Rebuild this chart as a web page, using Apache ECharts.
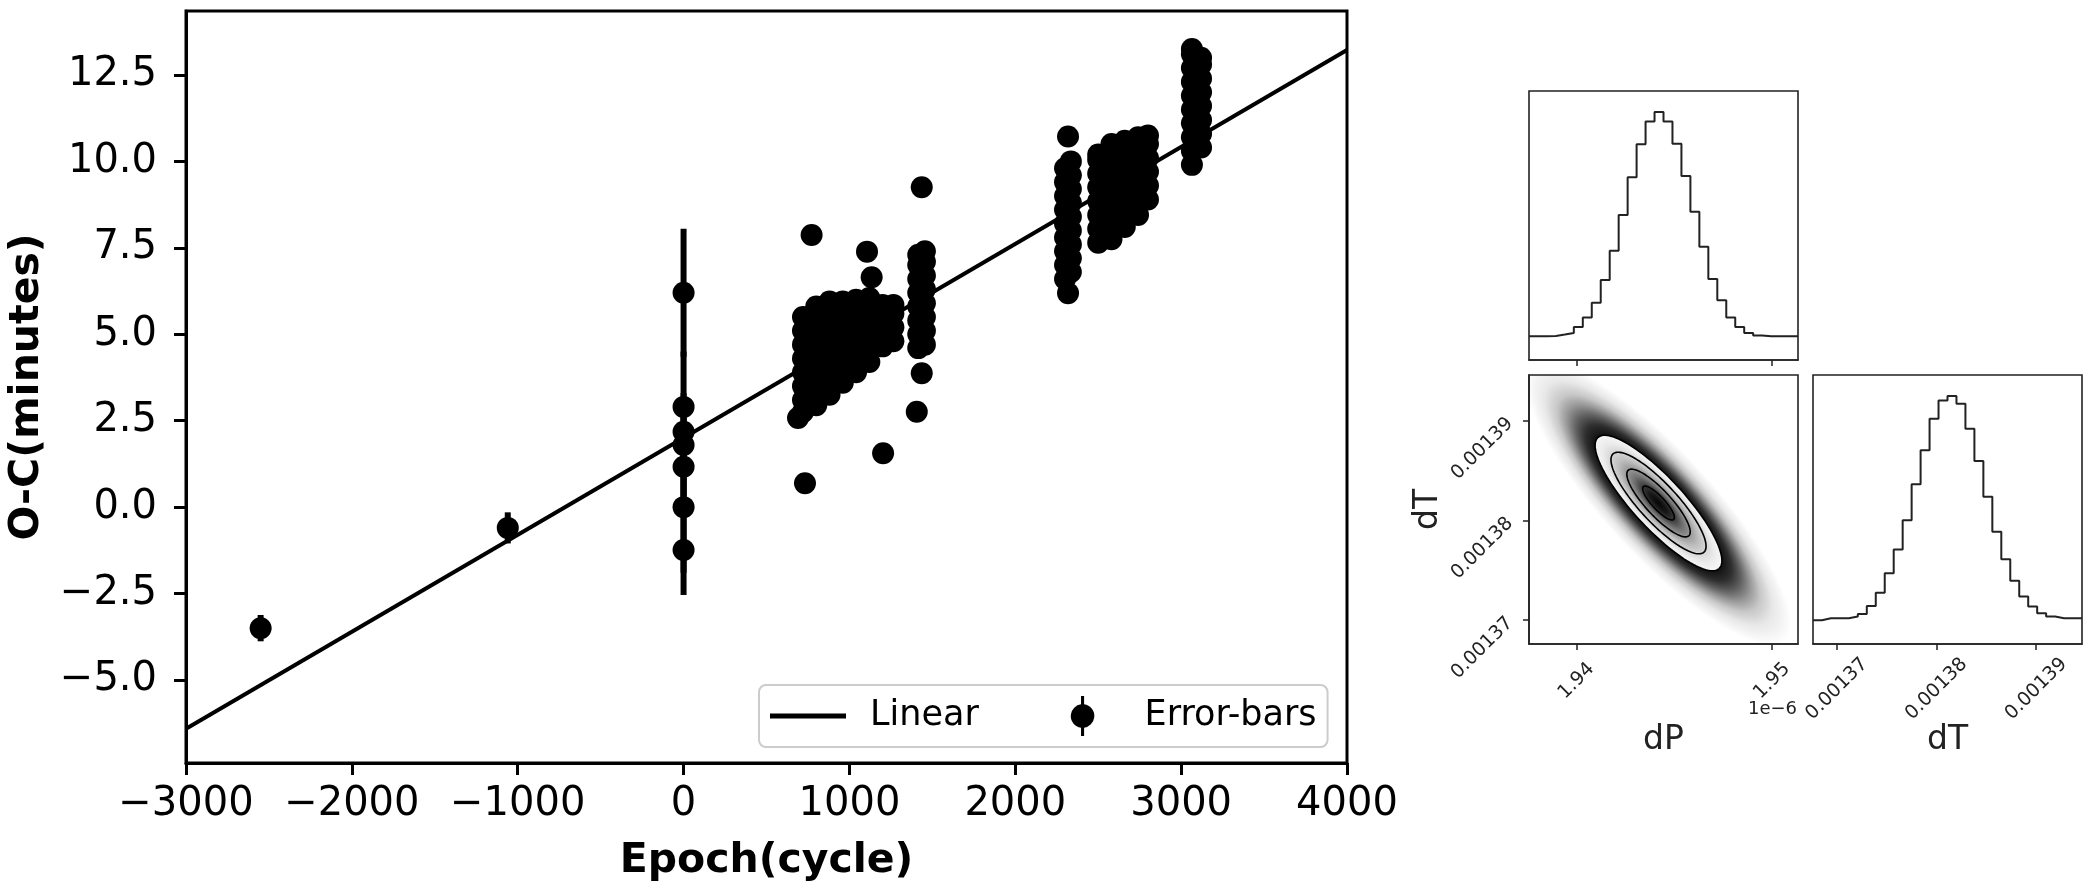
<!DOCTYPE html>
<html><head><meta charset="utf-8">
<script src="https://cdn.jsdelivr.net/npm/echarts@6/dist/echarts.min.js"></script>
<style>html,body{margin:0;padding:0;background:#fff}#c{width:2092px;height:886px}</style>
</head><body><div id="c"></div>
<script>
// ---------- main O-C diagram ----------
const xTickValues = [-3000, -2000, -1000, 0, 1000, 2000, 3000, 4000];
const xTickLabels = ['\u22123000', '\u22122000', '\u22121000', '0', '1000', '2000', '3000', '4000'];
const yTickValues = [-5, -2.5, 0, 2.5, 5, 7.5, 10, 12.5];
const yTickLabels = ['\u22125.0', '\u22122.5', '0.0', '2.5', '5.0', '7.5', '10.0', '12.5'];

const linearEpochs = [-3000, 4000];
const linearOC = [-6.41, 13.22];

// [epoch, O-C (minutes), error (minutes)]
const earlyPoints = [[-2550, -3.5, 0.38], [-1060, -0.6, 0.45]];
const epochZeroPoints = [[0, 6.2, 1.85], [0, 2.9, 1.6], [0, 2.18, 1.0], [0, 1.8, 1.5], [0, 1.17, 1.2], [0, 0.0, 1.9], [0, -1.24, 1.3]];
const groupA = [
  [690, 2.58],
  [720, 2.75], [720, 3.1], [720, 3.5], [720, 3.9], [720, 4.3], [720, 4.7], [720, 5.1], [720, 5.5],
  [800, 2.95], [800, 3.35], [800, 3.75], [800, 4.15], [800, 4.55], [800, 4.95], [800, 5.35], [800, 5.8],
  [880, 3.25], [880, 3.65], [880, 4.05], [880, 4.45], [880, 4.85], [880, 5.25], [880, 5.65], [880, 5.95],
  [960, 3.6], [960, 4.0], [960, 4.4], [960, 4.8], [960, 5.2], [960, 5.6], [960, 5.95],
  [1040, 3.9], [1040, 4.3], [1040, 4.7], [1040, 5.1], [1040, 5.5], [1040, 6.0],
  [1120, 4.2], [1120, 4.6], [1120, 5.0], [1120, 5.4], [1120, 5.8], [1120, 6.05],
  [1200, 4.65], [1200, 5.05], [1200, 5.45], [1200, 5.85],
  [1265, 4.8], [1265, 5.2], [1265, 5.6], [1265, 5.85]
];
const outliersA = [[772, 7.87], [1106, 7.39], [1134, 6.65], [1203, 1.56], [732, 0.69]];
const groupB = [
  [1415, 4.6], [1415, 5.0], [1415, 5.4], [1415, 5.8], [1415, 6.2], [1415, 6.6], [1415, 7.0], [1415, 7.3],
  [1455, 4.7], [1455, 5.1], [1455, 5.5], [1455, 5.9], [1455, 6.3], [1455, 6.7], [1455, 7.1], [1455, 7.4]
];
const outliersB = [[1436, 3.87], [1406, 2.76], [1436, 9.25]];
const groupC = [
  [2318, 6.19], [2318, 10.72],
  [2300, 6.6], [2300, 7.0], [2300, 7.4], [2300, 7.8], [2300, 8.2], [2300, 8.6], [2300, 9.0], [2300, 9.4], [2300, 9.8],
  [2335, 6.8], [2335, 7.2], [2335, 7.6], [2335, 8.0], [2335, 8.4], [2335, 8.8], [2335, 9.2], [2335, 9.6], [2335, 10.0]
];
const groupD = [
  [2500, 7.65], [2500, 8.05], [2500, 8.45], [2500, 8.85], [2500, 9.25], [2500, 9.65], [2500, 10.05], [2500, 10.2],
  [2580, 7.75], [2580, 8.15], [2580, 8.55], [2580, 8.95], [2580, 9.35], [2580, 9.75], [2580, 10.15], [2580, 10.5],
  [2660, 8.1], [2660, 8.5], [2660, 8.9], [2660, 9.3], [2660, 9.7], [2660, 10.1], [2660, 10.6],
  [2740, 8.45], [2740, 8.85], [2740, 9.25], [2740, 9.65], [2740, 10.05], [2740, 10.45], [2740, 10.7],
  [2800, 8.9], [2800, 9.3], [2800, 9.7], [2800, 10.1], [2800, 10.5], [2800, 10.75]
];
const groupE = [
  [3065, 9.9], [3065, 10.3], [3065, 10.7], [3065, 11.1], [3065, 11.5], [3065, 11.9], [3065, 12.3], [3065, 12.7], [3065, 13.1], [3065, 13.25],
  [3120, 10.4], [3120, 10.8], [3120, 11.2], [3120, 11.6], [3120, 12.0], [3120, 12.4], [3120, 12.8], [3120, 13.0]
];
const defaultError = 0.15;

// ---------- MCMC posterior (corner plot) ----------
const dPRange = [1.93758, 1.95133];          // x 1e-6
const dTRange = [0.0013676, 0.0013946];
const dPTicks = [1.94, 1.95];
const dTTicks = [0.00137, 0.00138, 0.00139];
const dPCounts = [0, 0, 1, 5, 10, 28, 56, 100, 168, 256, 363, 476, 575, 643, 671, 643, 576, 480, 373, 268, 171, 108, 56, 28, 10, 2, 0, 0, 0, 0];
const dTCounts = [0, 6, 6, 6, 11, 19, 43, 83, 141, 213, 301, 409, 511, 606, 661, 674, 651, 576, 479, 371, 266, 183, 119, 71, 41, 21, 11, 6, 6, 6];
const postMean = [1.9442, 0.00138175];
const postSigma = [0.00162, 0.0000034];
const postRho = -0.85;
const contourLevels = [0.5, 1.0, 1.5, 2.0];

// shading style by Mahalanobis distance (sigma units)
const SHADE_MAX = 4.2;
const shadeStops = [
  [0, '#050505'], [0.3, '#1a1a1a'], [0.5, '#3a3a3a'], [0.75, '#6e6e6e'], [1.0, '#989898'],
  [1.25, '#bdbdbd'], [1.5, '#d6d6d6'], [1.75, '#ebebeb'], [1.99, '#f6f6f6'],
  [2.0, 'rgba(0,0,0,0.93)'], [2.3, 'rgba(0,0,0,0.82)'], [2.6, 'rgba(0,0,0,0.62)'], [2.9, 'rgba(0,0,0,0.4)'],
  [3.2, 'rgba(0,0,0,0.22)'], [3.6, 'rgba(0,0,0,0.09)'], [4.2, 'rgba(0,0,0,0)']
];

// ---------- build ----------
const FONT = 'DejaVu Sans';
const allPoints = [].concat(earlyPoints, epochZeroPoints, groupA, outliersA, groupB, outliersB, groupC, groupD, groupE)
  .map(p => [p[0], p[1], p.length > 2 ? p[2] : defaultError]);

function histLine(counts, range) {
  const w = (range[1] - range[0]) / counts.length;
  const d = counts.map((c, i) => [range[0] + i * w, c]);
  d.push([range[1], counts[counts.length - 1]]);
  return d;
}
function lookup(vals, labels, v) {
  for (let i = 0; i < vals.length; i++) if (Math.abs(vals[i] - v) < 1e-9) return labels[i];
  return '';
}
const maxP = Math.max.apply(null, dPCounts), maxT = Math.max.apply(null, dTCounts);
const cornerLine = { onZero: false, lineStyle: { color: '#222', width: 1.6 } };
const cornerTick = { length: 6, lineStyle: { color: '#222', width: 1.5 } };
const cornerLabel = { fontFamily: FONT, fontSize: 19, color: '#222' };

const errorBarIcon = 'path://M10,0H13V8.1A11.5,11.5 0 0 1 13,30.9V39H10V30.9A11.5,11.5 0 0 1 10,8.1Z';
const lineIcon = 'path://M0,0H76V5H0Z';

const chart = echarts.init(document.getElementById('c'), null, { renderer: 'canvas' });
chart.setOption({
  animation: false,
  backgroundColor: '#fff',
  grid: [
    { left: 186, top: 11, width: 1161, height: 752, show: true, borderColor: '#000', borderWidth: 3, backgroundColor: 'transparent', outerBoundsMode: 'none' },
    { left: 1529, top: 91, width: 269, height: 269, show: true, borderColor: '#222', borderWidth: 1.6, outerBoundsMode: 'none' },
    { left: 1529, top: 375, width: 269, height: 269, show: true, borderColor: '#222', borderWidth: 1.6, outerBoundsMode: 'none' },
    { left: 1813, top: 375, width: 269, height: 269, show: true, borderColor: '#222', borderWidth: 1.6, outerBoundsMode: 'none' }
  ],
  xAxis: [
    {
      gridIndex: 0, type: 'value', min: -3000, max: 4000, interval: 1000,
      name: 'Epoch(cycle)', nameLocation: 'middle', nameGap: 78, nameMoveOverlap: false,
      nameTextStyle: { fontFamily: FONT, fontSize: 41, fontWeight: 'bold', color: '#000' },
      axisLine: { show: true, onZero: false, lineStyle: { color: '#000', width: 3 } },
      axisTick: { show: true, length: 12, lineStyle: { color: '#000', width: 3 } },
      axisLabel: { margin: 22, fontFamily: FONT, fontSize: 40, color: '#000', formatter: v => lookup(xTickValues, xTickLabels, v) },
      splitLine: { show: false }
    },
    {
      gridIndex: 1, type: 'value', min: dPRange[0], max: dPRange[1],
      axisLine: Object.assign({ show: true }, cornerLine),
      axisTick: Object.assign({ show: true, customValues: dPTicks }, cornerTick),
      axisLabel: { show: false, customValues: dPTicks },
      splitLine: { show: false }
    },
    {
      gridIndex: 2, type: 'value', min: dPRange[0], max: dPRange[1],
      name: 'dP', nameLocation: 'middle', nameGap: 80, nameMoveOverlap: false,
      nameTextStyle: { fontFamily: FONT, fontSize: 33, color: '#222' },
      axisLine: Object.assign({ show: true }, cornerLine),
      axisTick: Object.assign({ show: true, customValues: dPTicks }, cornerTick),
      axisLabel: Object.assign({ customValues: dPTicks, rotate: 45, align: 'center', verticalAlign: 'middle', margin: 37, formatter: v => v.toFixed(2) }, cornerLabel),
      splitLine: { show: false }
    },
    {
      gridIndex: 3, type: 'value', min: dTRange[0], max: dTRange[1],
      name: 'dT', nameLocation: 'middle', nameGap: 80, nameMoveOverlap: false,
      nameTextStyle: { fontFamily: FONT, fontSize: 33, color: '#222' },
      axisLine: Object.assign({ show: true }, cornerLine),
      axisTick: Object.assign({ show: true, customValues: dTTicks }, cornerTick),
      axisLabel: Object.assign({ customValues: dTTicks, rotate: 45, align: 'center', verticalAlign: 'middle', margin: 45, formatter: v => v.toFixed(5) }, cornerLabel),
      splitLine: { show: false }
    }
  ],
  yAxis: [
    {
      gridIndex: 0, type: 'value', min: -7.4, max: 14.35,
      name: 'O-C(minutes)', nameLocation: 'middle', nameGap: 138, nameRotate: 90, nameMoveOverlap: false,
      nameTextStyle: { fontFamily: FONT, fontSize: 41, fontWeight: 'bold', color: '#000' },
      axisLine: { show: true, onZero: false, lineStyle: { color: '#000', width: 3 } },
      axisTick: { show: true, length: 12, customValues: yTickValues, lineStyle: { color: '#000', width: 3 } },
      axisLabel: { customValues: yTickValues, margin: 29, fontFamily: FONT, fontSize: 40, color: '#000', formatter: v => lookup(yTickValues, yTickLabels, v) },
      splitLine: { show: false }
    },
    {
      gridIndex: 1, type: 'value', min: -0.106 * maxP, max: 1.094 * maxP, show: false, axisLine: { onZero: false }, splitLine: { show: false }
    },
    {
      gridIndex: 2, type: 'value', min: dTRange[0], max: dTRange[1],
      name: 'dT', nameLocation: 'middle', nameGap: 84, nameRotate: 90, nameMoveOverlap: false,
      nameTextStyle: { fontFamily: FONT, fontSize: 33, color: '#222' },
      axisLine: Object.assign({ show: true }, cornerLine),
      axisTick: Object.assign({ show: true, customValues: dTTicks }, cornerTick),
      axisLabel: Object.assign({ customValues: dTTicks, rotate: 45, margin: 19, formatter: v => v.toFixed(5) }, cornerLabel),
      splitLine: { show: false }
    },
    {
      gridIndex: 3, type: 'value', min: -0.106 * maxT, max: 1.094 * maxT, show: false, axisLine: { onZero: false }, splitLine: { show: false }
    }
  ],
  legend: {
    left: 759, top: 685, orient: 'horizontal',
    padding: [11, 11, 11, 11],
    itemWidth: 76, itemHeight: 40, itemGap: 92,
    backgroundColor: 'rgba(255,255,255,0.8)', borderColor: '#cccccc', borderWidth: 2, borderRadius: 7,
    textStyle: { fontFamily: FONT, fontSize: 35, color: '#000', padding: [0, 0, 0, 19] },
    selectedMode: false,
    data: [
      { name: 'Linear', icon: lineIcon, itemStyle: { color: '#000' } },
      { name: 'Error-bars', icon: errorBarIcon, itemStyle: { color: '#000' } }
    ]
  },
  graphic: [
    { type: 'text', left: 1748, top: 700, style: { text: '1e\u22126', font: '18px "DejaVu Sans"', fill: '#222' } }
  ],
  series: [
    {
      name: 'Linear', type: 'line', xAxisIndex: 0, yAxisIndex: 0,
      data: linearEpochs.map((e, i) => [e, linearOC[i]]),
      showSymbol: false, symbol: 'none', color: '#000',
      lineStyle: { color: '#000', width: 4 }, itemStyle: { color: '#000' }, z: 1, silent: true
    },
    {
      name: 'bars', type: 'custom', xAxisIndex: 0, yAxisIndex: 0, data: allPoints, z: 2, silent: true,
      renderItem: function (params, api) {
        const x = api.value(0), y = api.value(1), e = api.value(2);
        const p1 = api.coord([x, y - e]), p2 = api.coord([x, y + e]);
        return { type: 'line', shape: { x1: p1[0], y1: p1[1], x2: p2[0], y2: p2[1] }, style: { stroke: '#000', lineWidth: 6 } };
      }
    },
    {
      name: 'Error-bars', type: 'scatter', xAxisIndex: 0, yAxisIndex: 0,
      data: allPoints.map(p => [p[0], p[1]]), symbol: 'circle', symbolSize: 22,
      itemStyle: { color: '#000', opacity: 1 }, z: 3, silent: true
    },
    {
      name: 'dP hist', type: 'line', xAxisIndex: 1, yAxisIndex: 1, data: histLine(dPCounts, dPRange),
      step: 'end', showSymbol: false, symbol: 'none', lineStyle: { color: '#222', width: 2 }, silent: true
    },
    {
      name: 'dT hist', type: 'line', xAxisIndex: 3, yAxisIndex: 3, data: histLine(dTCounts, dTRange),
      step: 'end', showSymbol: false, symbol: 'none', lineStyle: { color: '#222', width: 2 }, silent: true
    },
    {
      name: 'posterior', type: 'custom', xAxisIndex: 2, yAxisIndex: 2, data: [postMean], silent: true, clip: true,
      renderItem: function (params, api) {
        const sq = Math.sqrt(1 - postRho * postRho);
        const ell = k => {
          const pts = [];
          for (let i = 0; i <= 120; i++) {
            const t = i / 120 * 2 * Math.PI, c = Math.cos(t), s = Math.sin(t);
            pts.push(api.coord([postMean[0] + k * postSigma[0] * c, postMean[1] + k * postSigma[1] * (postRho * c + sq * s)]));
          }
          return pts;
        };
        // pixel-space covariance of the posterior
        const c0 = api.coord(postMean);
        const pxP = api.coord([postMean[0] + postSigma[0], postMean[1]]);
        const pxT = api.coord([postMean[0], postMean[1] + postSigma[1]]);
        const sx = pxP[0] - c0[0], sy = pxT[1] - c0[1];
        const Sxx = sx * sx, Syy = sy * sy, Sxy = postRho * sx * sy;
        const tr = (Sxx + Syy) / 2, df = (Sxx - Syy) / 2, rt = Math.sqrt(df * df + Sxy * Sxy);
        const l1 = tr + rt, l2 = Math.max(tr - rt, 1e-6);
        const th = 0.5 * Math.atan2(2 * Sxy, Sxx - Syy);
        const children = [{
          type: 'circle', shape: { cx: 0, cy: 0, r: 1 }, x: c0[0], y: c0[1], rotation: -th,
          scaleX: SHADE_MAX * Math.sqrt(l1), scaleY: SHADE_MAX * Math.sqrt(l2),
          style: { fill: { type: 'radial', x: 0.5, y: 0.5, r: 0.5, global: false,
            colorStops: shadeStops.map(s => ({ offset: s[0] / SHADE_MAX, color: s[1] })) } }
        }];
        contourLevels.forEach(k => children.push({ type: 'polygon', shape: { points: ell(k) }, style: { fill: 'none', stroke: '#000', lineWidth: 1.6 } }));
        const cs = params.coordSys;
        return { type: 'group', children: children, clipPath: { type: 'rect', shape: { x: cs.x, y: cs.y, width: cs.width, height: cs.height } } };
      }
    }
  ]
});
</script>
</body></html>
